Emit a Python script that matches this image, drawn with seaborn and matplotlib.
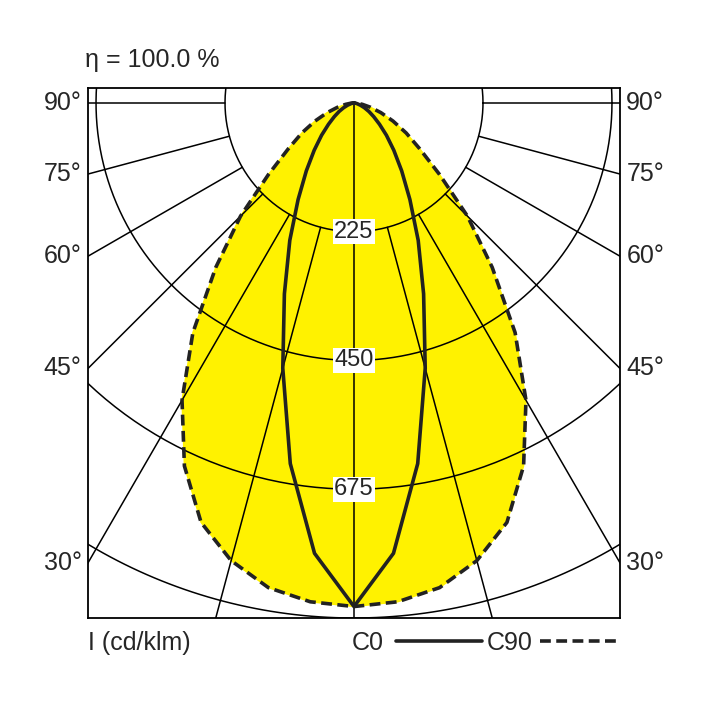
import numpy as np
import pandas as pd
import seaborn as sns
import matplotlib.pyplot as plt

sns.set_style("white")
plt.rcParams['font.family'] = ['Liberation Sans Narrow', 'Liberation Sans', 'DejaVu Sans']

# luminous intensity (cd/klm) vs angle from nadir
angles = [0, 5, 10, 15, 20, 25, 30, 35, 40, 45, 50, 55, 60, 65, 70, 75, 80, 85, 90]
c0 = [880, 790, 640, 480, 355, 265, 195, 145, 108, 80, 58, 42, 30, 20, 12, 6, 3, 1, 0]
c90 = [880, 875, 860, 828, 780, 700, 600, 490, 375, 280, 195, 140, 105, 75, 50, 30, 15, 5, 0]
rings = [225, 450, 675, 900]
ring_labels = ["225", "450", "675"]
angle_labels = [90, 75, 60, 45, 30]
efficiency = "η = 100.0 %"


def to_xy(ang, val):
    a = np.deg2rad(np.concatenate([-np.array(ang[::-1]), np.array(ang[1:])]))
    v = np.concatenate([np.array(val[::-1]), np.array(val[1:])])
    return pd.DataFrame({"x": v * np.sin(a), "y": -v * np.cos(a), "i": np.arange(len(v))})


def grid(ax, z):
    t = np.linspace(0, 2 * np.pi, 400)
    for r in rings:
        ax.plot(r * np.cos(t), r * np.sin(t), color="black", lw=1.1, zorder=z)
    for a in range(-90, 91, 15):
        rad = np.deg2rad(a)
        r0 = 0 if a == 0 else 225
        ax.plot([r0 * np.sin(rad), 2000 * np.sin(rad)], [-r0 * np.cos(rad), -2000 * np.cos(rad)],
                color="black", lw=1.1, zorder=z)


fig = plt.figure(figsize=(7.08, 7.08), dpi=100)
ax = fig.add_axes([88 / 708, 90 / 708, 532 / 708, 530 / 708])

d90 = to_xy(angles, c90)
d0 = to_xy(angles, c0)
ax.fill(d90["x"], d90["y"], color="#fff200", zorder=2)
grid(ax, 3)
sns.lineplot(data=d90, x="x", y="y", sort=False, estimator=None, units=None, color="#222", lw=2.6,
             ls=(0, (3, 1.5)), ax=ax, zorder=4)
sns.lineplot(data=d0, x="x", y="y", sort=False, estimator=None, color="#222", lw=2.6, ax=ax, zorder=4)

for lab, r in zip(ring_labels, rings):
    ax.text(0, -r, lab, ha="center", va="center", fontsize=17, zorder=5,
            bbox=dict(facecolor="white", edgecolor="none", pad=1))

ax.set_xlim(-464, 464)
ax.set_ylim(-900, 26)
ax.set_xticks([])
ax.set_yticks([])
ax.set_xlabel("")
ax.set_ylabel("")
for s in ax.spines.values():
    s.set_color("black")
    s.set_linewidth(1.3)

for a in angle_labels:
    y = -464 / np.tan(np.deg2rad(a)) if a < 90 else 0
    ax.text(-475, y, f"{a}°", ha="right", va="center", fontsize=18)
    ax.text(475, y, f"{a}°", ha="left", va="center", fontsize=18)

fig.text(85 / 708, 1 - 60 / 708, efficiency, ha="left", va="center", fontsize=18)
fig.text(88 / 708, 1 - 643 / 708, "I (cd/klm)", ha="left", va="center", fontsize=18)
fig.text(352 / 708, 1 - 643 / 708, "C0", ha="left", va="center", fontsize=18)
fig.text(487 / 708, 1 - 643 / 708, "C90", ha="left", va="center", fontsize=18)
fig.add_artist(plt.Line2D([396 / 708, 482 / 708], [1 - 641 / 708] * 2, color="#222", lw=2.6))
fig.add_artist(plt.Line2D([540 / 708, 617 / 708], [1 - 641 / 708] * 2, color="#222", lw=2.6,
                          ls=(0, (3, 1.5))))

fig.savefig("out.png", dpi=100)
